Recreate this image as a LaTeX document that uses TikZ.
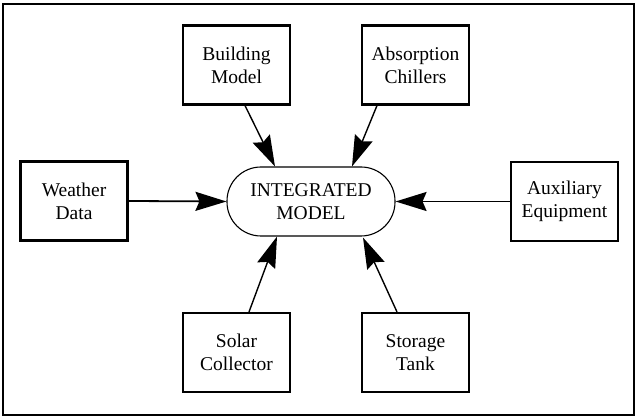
\documentclass[tikz,border=0pt]{standalone}
\usepackage{fontspec}
\setmainfont{Liberation Serif}
\usetikzlibrary{arrows.meta}
\begin{document}
\begin{tikzpicture}[x=1pt,y=-1pt,
  txt/.style={font=\fontsize{19.5}{23}\selectfont, align=center, inner sep=0pt},
  box/.style={txt, draw, line width=2.1pt, minimum width=107pt, minimum height=79pt},
  hub/.style={txt, draw, line width=1.1pt, rounded corners=34pt, minimum width=168pt, minimum height=69pt},
  feed/.style={line width=1.8pt, -{Stealth[length=31pt,width=19pt,inset=4pt]}},
  slant/.style={feed, line width=1.4pt}]
\useasboundingbox (0,0) rectangle (641,419);
\draw[line width=2pt] (3,4) rectangle (634,415);
\node[hub] (integ) at (311,201.5) {INTEGRATED\\MODEL};
\node[box] (building) at (236.5,65) {Building\\Model};
\node[box] (absorp) at (415.5,65) {Absorption\\Chillers};
\node[box] (weather) at (74,201) {Weather\\Data};
\node[box] (aux) at (564.5,201.5) {Auxiliary\\Equipment};
\node[box] (solar) at (236.5,352.5) {Solar\\Collector};
\node[box] (storage) at (415.5,352.5) {Storage\\Tank};
\draw[slant] ([xshift=8.5pt]building.south) -- ([xshift=-36pt]integ.north);
\draw[slant] ([xshift=-38.5pt]absorp.south) -- ([xshift=41pt]integ.north);
\draw[feed] (weather.east) -- (integ.west);
\draw[feed] (aux.west) -- (integ.east);
\draw[slant] ([xshift=12.5pt]solar.north) -- ([xshift=-34pt]integ.south);
\draw[slant] ([xshift=-18.5pt]storage.north) -- ([xshift=52pt,yshift=-1pt]integ.south);
\end{tikzpicture}
\end{document}
